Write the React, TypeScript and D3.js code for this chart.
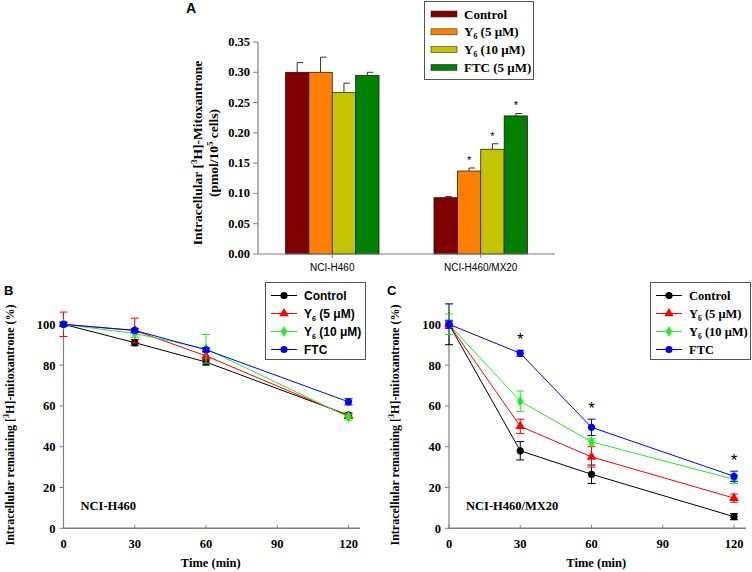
import React from "react";
import * as d3 from "d3";

// ---------- Panel A data ----------
const groups = ["NCI-H460", "NCI-H460/MX20"];
const barSeries = ["Control", "Y6 (5 μM)", "Y6 (10 μM)", "FTC (5 μM)"];
const barColors = ["#800000", "#ff8000", "#c4c400", "#008000"];
const barH460 = [0.3, 0.3, 0.267, 0.295];
const errH460 = [0.016, 0.025, 0.015, 0.005];
const barMX20 = [0.093, 0.137, 0.173, 0.228];
const errMX20 = [0.002, 0.005, 0.009, 0.004];
const sigMX20 = [false, true, true, true];
const aTicks = [0, 0.05, 0.1, 0.15, 0.2, 0.25, 0.3, 0.35];

// ---------- Panels B / C data ----------
const times = [0, 30, 60, 120];
const timeTicks = [0, 30, 60, 90, 120];
const pctTicks = [0, 20, 40, 60, 80, 100];
const lineNames = ["Control", "Y6 (5 μM)", "Y6 (10 μM)", "FTC"];
const lineColors = ["#000000", "#ff0000", "#22ee22", "#0000ff"];
const markers = ["circle", "triangle", "diamond", "circle"];

const ctrlB = [100, 91, 81.5, 55.5];
const ctrlBErr = [1, 1.5, 1.5, 1];
const y5B = [100, 97, 84.5, 55];
const y5BErr = [6, 6, 2, 1];
const y10B = [100, 95.5, 88, 54.5];
const y10BErr = [1, 2, 7, 1.5];
const ftcB = [100, 97, 87.5, 62];
const ftcBErr = [1, 1, 1, 1.5];

const ctrlC = [100, 38, 26.5, 5.7];
const ctrlCErr = [10, 4.5, 4.5, 1.5];
const y5C = [100, 50, 35, 14.8];
const y5CErr = [1.5, 3.5, 5, 2];
const y10C = [100, 62.3, 42.4, 24];
const y10CErr = [5, 5, 1.5, 2];
const ftcC = [100, 85.8, 49.5, 25.5];
const ftcCErr = [2, 1.5, 4, 2.5];
const sigC = [false, true, true, true];

const serif = "'Liberation Serif', 'Times New Roman', serif";
const sans = "'Liberation Sans', Arial, sans-serif";
const axisGray = "#808080";

function SeriesLabel({ name }: { name: string }) {
  if (name.startsWith("Y6")) {
    return (
      <>
        Y<tspan fontSize="0.6em" dy="3">6</tspan>
        <tspan dy="-3">{name.slice(2)}</tspan>
      </>
    );
  }
  return <>{name}</>;
}

function Marker({ type, x, y, color }: { type: string; x: number; y: number; color: string }) {
  if (type === "triangle") {
    const p = d3.symbol().type(d3.symbolTriangle).size(40)();
    return <path d={p || ""} transform={`translate(${x},${y})`} fill={color} />;
  }
  if (type === "diamond") {
    const p = d3.symbol().type(d3.symbolDiamond).size(36)();
    return <path d={p || ""} transform={`translate(${x},${y})`} fill={color} />;
  }
  return <circle cx={x} cy={y} r={3.6} fill={color} />;
}

function PanelA() {
  const x0 = d3.scaleBand<string>().domain(groups).range([258, 555]).paddingInner(0.37).paddingOuter(0.185);
  const x1 = d3.scaleBand<string>().domain(barSeries).range([0, x0.bandwidth()]);
  const y = d3.scaleLinear().domain([0, 0.35]).range([254, 42]);
  const data = [barH460, barMX20];
  const errs = [errH460, errMX20];
  return (
    <g>
      <text x={186} y={13} fontFamily={sans} fontWeight="bold" fontSize={14}>A</text>
      {groups.map((g, gi) =>
        barSeries.map((s, si) => {
          const bx = (x0(g) || 0) + (x1(s) || 0);
          const v = data[gi][si];
          const e = errs[gi][si];
          const cx = bx + x1.bandwidth() / 2;
          return (
            <g key={g + s}>
              <line x1={cx} x2={cx} y1={y(v)} y2={y(v + e)} stroke="#333" strokeWidth={1} />
              <line x1={cx} x2={cx + 6} y1={y(v + e)} y2={y(v + e)} stroke="#333" strokeWidth={1} />
              <rect x={bx} y={y(v)} width={x1.bandwidth()} height={y(0) - y(v)} fill={barColors[si]} stroke="#111" strokeWidth={0.7} />
              {gi === 1 && sigMX20[si] && (
                <text x={cx} y={y(v + e) - 4} textAnchor="middle" fontFamily={sans} fontSize={11}>*</text>
              )}
            </g>
          );
        })
      )}
      <line x1={258} x2={258} y1={42} y2={254} stroke={axisGray} strokeWidth={1.2} />
      <line x1={258} x2={555} y1={254} y2={254} stroke={axisGray} strokeWidth={1.2} />
      {aTicks.map((t) => (
        <g key={t}>
          <line x1={253} x2={258} y1={y(t)} y2={y(t)} stroke={axisGray} strokeWidth={1} />
          <text x={250} y={y(t) + 4} textAnchor="end" fontFamily={serif} fontWeight="bold" fontSize={12.5}>
            {t.toFixed(2)}
          </text>
        </g>
      ))}
      {groups.map((g) => {
        const cx = (x0(g) || 0) + x0.bandwidth() / 2;
        return (
          <g key={g}>
            <line x1={cx} x2={cx} y1={254} y2={258} stroke={axisGray} />
            <text x={cx} y={271} textAnchor="middle" fontFamily={sans} fontSize={10}>{g}</text>
          </g>
        );
      })}
      <text transform="translate(202,153) rotate(-90)" textAnchor="middle" fontFamily={serif} fontWeight="bold" fontSize={13.5}>
        Intracellular [<tspan fontSize={9} dy={-5}>3</tspan><tspan dy={5}>H]-Mitoxantrone</tspan>
      </text>
      <text transform="translate(218,153) rotate(-90)" textAnchor="middle" fontFamily={serif} fontWeight="bold" fontSize={13.5}>
        (pmol/10<tspan fontSize={9} dy={-5}>5</tspan><tspan dy={5}> cells)</tspan>
      </text>
      <rect x={424.5} y={1.5} width={109} height={78} fill="white" stroke="#555" strokeWidth={1} />
      {barSeries.map((s, i) => (
        <g key={s}>
          <rect x={431} y={11 + i * 17.8} width={26} height={6} fill={barColors[i]} stroke="#333" strokeWidth={0.6} />
          <text x={464} y={18.5 + i * 17.8} fontFamily={serif} fontWeight="bold" fontSize={13}>
            <SeriesLabel name={s} />
          </text>
        </g>
      ))}
    </g>
  );
}

function LinePanel({
  left, axisEnd, label, letter, letterX, series, errs, legendX, legendFont, stars,
}: {
  left: number; axisEnd: number; label: string; letter: string; letterX: number;
  series: number[][]; errs: number[][]; legendX: number; legendFont: string; stars?: boolean[];
}) {
  const x = d3.scaleLinear().domain([0, 120]).range([left, left + 285]);
  const y = d3.scaleLinear().domain([0, 100]).range([528.3, 324.3]);
  const line = d3.line<number>().x((_, i) => x(times[i])).y((d) => y(d));
  const ftc = series[3];
  const ftcE = errs[3];
  return (
    <g>
      <text x={letterX} y={295} fontFamily={sans} fontWeight="bold" fontSize={13}>{letter}</text>
      <line x1={left} x2={left} y1={312} y2={528.3} stroke={axisGray} strokeWidth={1.2} />
      <line x1={left} x2={axisEnd} y1={528.3} y2={528.3} stroke={axisGray} strokeWidth={1.6} />
      {pctTicks.map((t) => (
        <g key={t}>
          <line x1={left - 4} x2={left} y1={y(t)} y2={y(t)} stroke={axisGray} />
          <text x={left - 8} y={y(t) + 4.5} textAnchor="end" fontFamily={serif} fontWeight="bold" fontSize={12.5}>{t}</text>
        </g>
      ))}
      {timeTicks.map((t) => (
        <g key={t}>
          <line x1={x(t)} x2={x(t)} y1={525} y2={528.3} stroke={axisGray} />
          <text x={x(t)} y={548} textAnchor="middle" fontFamily={serif} fontWeight="bold" fontSize={12.5}>{t}</text>
        </g>
      ))}
      <text x={x(62)} y={567} textAnchor="middle" fontFamily={serif} fontWeight="bold" fontSize={12.5}>Time (min)</text>
      <text transform={`translate(${left - 50},425) rotate(-90)`} textAnchor="middle" fontFamily={serif} fontWeight="bold" fontSize={12}>
        Intracellular remaining [<tspan fontSize={8} dy={-5}>3</tspan><tspan dy={5}>H]-mitoxantrone (%)</tspan>
      </text>
      <text x={left + 17} y={510} fontFamily={serif} fontWeight="bold" fontSize={12.5}>{label}</text>
      {series.map((s, si) => (
        <g key={si}>
          <path d={line(s) || ""} fill="none" stroke={lineColors[si]} strokeWidth={1} />
          {s.map((v, i) => {
            const e = errs[si][i];
            const cx = x(times[i]);
            return (
              <g key={i}>
                <line x1={cx} x2={cx} y1={y(v - e)} y2={y(v + e)} stroke={lineColors[si]} strokeWidth={1} />
                <line x1={cx - 4} x2={cx + 4} y1={y(v - e)} y2={y(v - e)} stroke={lineColors[si]} strokeWidth={1} />
                <line x1={cx - 4} x2={cx + 4} y1={y(v + e)} y2={y(v + e)} stroke={lineColors[si]} strokeWidth={1} />
                <Marker type={markers[si]} x={cx} y={y(v)} color={lineColors[si]} />
              </g>
            );
          })}
        </g>
      ))}
      {stars &&
        times.map((t, i) =>
          stars[i] ? (
            <text key={t} x={x(t)} y={y(ftc[i] + ftcE[i]) - 5} textAnchor="middle" fontFamily={sans} fontSize={17}>*</text>
          ) : null
        )}
      <rect x={legendX + 0.5} y={282.5} width={100} height={77} fill="white" stroke="#555" strokeWidth={1} />
      {lineNames.map((n, i) => {
        const ly = 295.5 + i * 18;
        return (
          <g key={n}>
            <line x1={legendX + 6} x2={legendX + 32} y1={ly} y2={ly} stroke={lineColors[i]} strokeWidth={1} />
            <Marker type={markers[i]} x={legendX + 19} y={ly} color={lineColors[i]} />
            <text x={legendX + 39} y={ly + 4.5} fontFamily={legendFont} fontWeight="bold" fontSize={legendFont === sans ? 12 : 12.5}>
              <SeriesLabel name={n} />
            </text>
          </g>
        );
      })}
    </g>
  );
}

export default function App() {
  return (
    <svg width={752} height={572} style={{ position: "absolute", left: 0, top: 0, background: "white" }}>
      <rect width={752} height={572} fill="white" />
      <PanelA />
      <LinePanel
        left={63.5} axisEnd={360} label="NCI-H460" letter="B" letterX={4}
        series={[ctrlB, y5B, y10B, ftcB]} errs={[ctrlBErr, y5BErr, y10BErr, ftcBErr]}
        legendX={265} legendFont={sans}
      />
      <LinePanel
        left={449} axisEnd={746} label="NCI-H460/MX20" letter="C" letterX={387}
        series={[ctrlC, y5C, y10C, ftcC]} errs={[ctrlCErr, y5CErr, y10CErr, ftcCErr]}
        legendX={650} legendFont={serif} stars={sigC}
      />
    </svg>
  );
}
